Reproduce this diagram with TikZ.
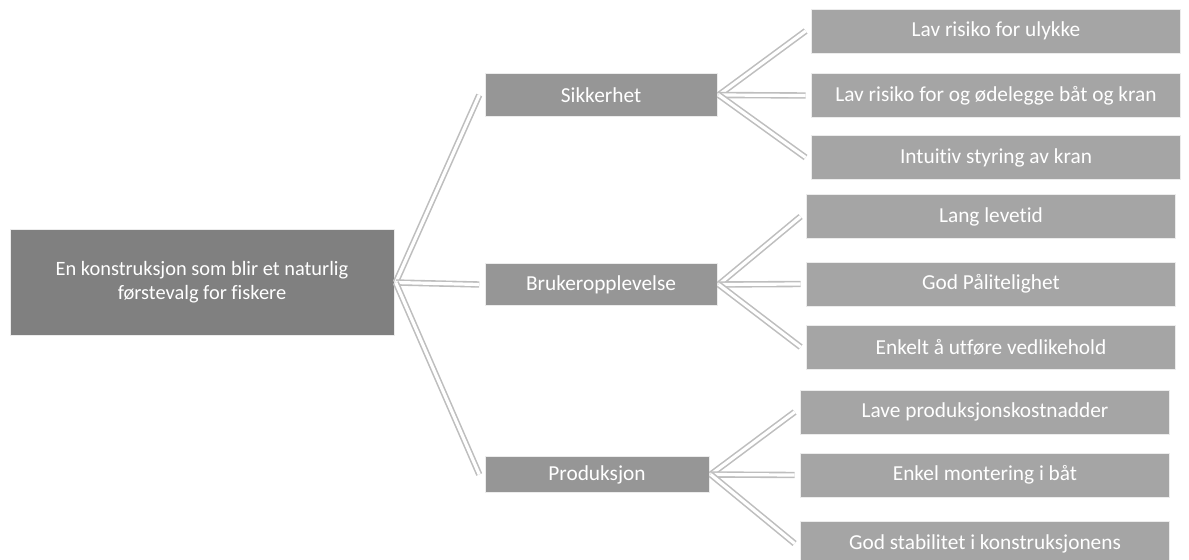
\documentclass[tikz,border=0pt]{standalone}
\usepackage{fontspec}
\setmainfont{Carlito}[Ligatures=NoCommon]
\definecolor{rootc}{HTML}{808080}
\definecolor{midc}{HTML}{969696}
\definecolor{leafc}{HTML}{A5A5A5}
\definecolor{linec}{HTML}{BEBEBE}
\begin{document}
\begin{tikzpicture}[x=0.75pt,y=-0.75pt,
  box/.style={rectangle,draw=white!85!gray,line width=0.6pt,text=white,inner sep=0pt,align=center,font=\fontsize{16}{19}\selectfont},
  rootbox/.style={box,fill=rootc,minimum width=288pt,minimum height=79pt,font=\fontsize{15.3}{18}\selectfont},
  midbox/.style={box,fill=midc,minimum width=174pt,minimum height=32pt},
  leafbox/.style={box,fill=leafc,minimum width=277pt,minimum height=33pt},
  link/.style={draw=linec,line width=1.2pt,double=white,double distance=2.4pt}]
\useasboundingbox (0,0) rectangle (1189,560);
\clip (0,0) rectangle (1189,560);
\node[rootbox] (root) at (202,282.5) {En konstruksjon som blir et naturlig\\førstevalg for fiskere};
\node[midbox] (s) at (601,95) {Sikkerhet};
\node[midbox] (b) at (601,284.5) {Brukeropplevelse};
\node[midbox,minimum width=168pt,minimum height=27pt] (p) at (597,474.5) {Produksjon};
\node[leafbox] (s1) at (996,31) {Lav risiko for ulykke};
\node[leafbox] (s2) at (996,95.5) {Lav risiko for og ødelegge båt og kran};
\node[leafbox] (s3) at (996,157.5) {Intuitiv styring av kran};
\node[leafbox] (b1) at (991,216.5) {Lang levetid};
\node[leafbox] (b2) at (991,284) {God Pålitelighet};
\node[leafbox] (b3) at (991,347) {Enkelt å utføre vedlikehold};
\node[leafbox] (p1) at (985,412) {Lave produksjonskostnadder};
\node[leafbox] (p2) at (985,475) {Enkel montering i båt};
\node[leafbox] (p3) at (985,543.5) {God stabilitet i konstruksjonens};
\foreach \a/\b in {root/s,root/b,root/p,s/s1,s/s2,s/s3,b/b1,b/b2,b/b3,p/p1,p/p2,p/p3}{
  \path[link] ([xshift=1pt]\a.east) -- ([xshift=-4pt]\b.west);
}
\end{tikzpicture}
\end{document}
